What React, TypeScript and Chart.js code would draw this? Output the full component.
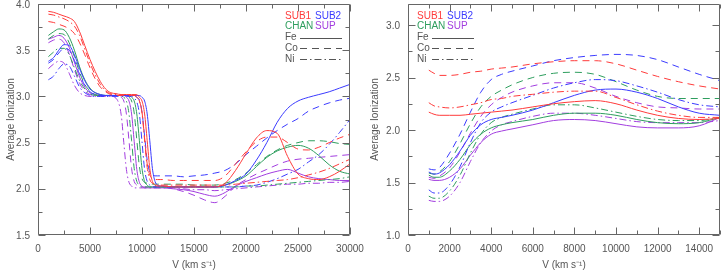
import React, { useEffect, useRef } from "react";
import { Chart, registerables } from "chart.js";

Chart.register(...registerables);

// ---------- Left panel data (V in km/s) ----------
const V_LEFT = [
  1000, 1500, 2000, 2500, 3000, 3500, 4000, 4500, 5000, 5500, 6000, 6500, 7000, 7500,
  8000, 8250, 8500, 8750, 9000, 9250, 9500, 9750, 10000, 10250, 10500, 10750, 11000, 11250, 11500, 11750, 12000,
  13000, 14000, 15000, 16000, 17000, 18000, 19000, 20000, 21000, 22000, 23000, 24000, 25000, 26000, 27000, 28000, 29000, 30000,
];

const L_SUB1_FE = [
  3.92, 3.91, 3.89, 3.87, 3.85, 3.81, 3.70, 3.55, 3.40, 3.27, 3.16, 3.08, 3.04, 3.03,
  3.02, 3.02, 3.02, 3.02, 3.02, 3.02, 3.02, 2.99, 2.95, 2.81, 2.52, 2.22, 2.08, 2.04, 2.03, 2.03, 2.03,
  2.02, 2.02, 2.02, 2.02, 2.02, 2.06, 2.20, 2.38, 2.55, 2.63, 2.60, 2.35, 2.16, 2.11, 2.10, 2.13, 2.19, 2.27,
];
const L_SUB1_CO = [
  3.81, 3.80, 3.78, 3.76, 3.73, 3.68, 3.58, 3.45, 3.31, 3.19, 3.10, 3.05, 3.02, 3.01,
  3.01, 3.01, 3.01, 3.01, 3.01, 3.01, 2.99, 2.95, 2.83, 2.55, 2.27, 2.15, 2.11, 2.10, 2.10, 2.10, 2.10,
  2.09, 2.09, 2.09, 2.09, 2.09, 2.14, 2.27, 2.40, 2.51, 2.56, 2.56, 2.50, 2.43, 2.42, 2.45, 2.50, 2.55, 2.59,
];
const L_SUB1_NI = [
  3.89, 3.88, 3.86, 3.84, 3.81, 3.76, 3.66, 3.51, 3.36, 3.23, 3.13, 3.06, 3.03, 3.02,
  3.02, 3.02, 3.02, 3.02, 3.02, 3.02, 2.99, 2.95, 2.82, 2.53, 2.23, 2.10, 2.06, 2.05, 2.04, 2.04, 2.04,
  2.04, 2.04, 2.04, 2.04, 2.04, 2.04, 2.05, 2.06, 2.07, 2.08, 2.09, 2.10, 2.12, 2.15, 2.18, 2.22, 2.27, 2.32,
];
const L_SUB2_FE = [
  3.38, 3.42, 3.50, 3.56, 3.55, 3.45, 3.30, 3.17, 3.08, 3.04, 3.02, 3.01, 3.01, 3.01,
  3.01, 3.01, 3.01, 3.01, 3.01, 3.01, 3.01, 3.01, 2.99, 2.95, 2.81, 2.52, 2.22, 2.08, 2.04, 2.03, 2.03,
  2.02, 2.02, 2.02, 2.02, 2.02, 2.04, 2.09, 2.16, 2.31, 2.50, 2.72, 2.87, 2.95, 2.99, 3.02, 3.05, 3.09, 3.13,
];
const L_SUB2_CO = [
  3.36, 3.40, 3.47, 3.52, 3.50, 3.39, 3.24, 3.12, 3.05, 3.02, 3.01, 3.01, 3.01, 3.01,
  3.01, 3.01, 3.01, 3.01, 3.01, 3.01, 2.99, 2.96, 2.83, 2.57, 2.31, 2.18, 2.15, 2.14, 2.14, 2.14, 2.14,
  2.14, 2.13, 2.14, 2.15, 2.17, 2.20, 2.27, 2.37, 2.46, 2.55, 2.63, 2.70, 2.76, 2.84, 2.89, 2.93, 2.96, 2.98,
];
const L_SUB2_NI = [
  3.18, 3.22, 3.30, 3.35, 3.33, 3.22, 3.10, 3.04, 3.01, 3.00, 3.00, 3.00, 3.00, 3.00,
  3.00, 3.00, 3.00, 3.00, 3.00, 2.98, 2.94, 2.81, 2.51, 2.21, 2.08, 2.04, 2.02, 2.02, 2.02, 2.02, 2.02,
  2.02, 2.02, 2.02, 2.02, 2.02, 2.02, 2.02, 2.03, 2.04, 2.07, 2.11, 2.16, 2.21, 2.29, 2.37, 2.48, 2.61, 2.75,
];
const L_CHAN_FE = [
  3.66, 3.70, 3.73, 3.72, 3.64, 3.50, 3.32, 3.18, 3.09, 3.04, 3.02, 3.01, 3.01, 3.01,
  3.01, 3.01, 3.01, 3.01, 2.99, 2.95, 2.81, 2.52, 2.22, 2.08, 2.04, 2.02, 2.02, 2.02, 2.02, 2.02, 2.02,
  2.02, 2.02, 2.02, 2.02, 2.02, 2.04, 2.08, 2.14, 2.24, 2.34, 2.41, 2.45, 2.47, 2.44, 2.36, 2.26, 2.19, 2.16,
];
const L_CHAN_CO = [
  3.62, 3.66, 3.68, 3.67, 3.58, 3.43, 3.26, 3.13, 3.06, 3.02, 3.01, 3.01, 3.01, 3.01,
  3.01, 3.01, 3.01, 2.99, 2.95, 2.82, 2.53, 2.24, 2.11, 2.07, 2.06, 2.05, 2.05, 2.05, 2.05, 2.05, 2.05,
  2.05, 2.05, 2.04, 2.04, 2.04, 2.06, 2.10, 2.17, 2.26, 2.35, 2.42, 2.47, 2.50, 2.52, 2.52, 2.51, 2.49, 2.48,
];
const L_CHAN_NI = [
  3.43, 3.48, 3.52, 3.52, 3.45, 3.31, 3.17, 3.08, 3.03, 3.01, 3.01, 3.01, 3.01, 3.01,
  3.01, 2.99, 2.95, 2.81, 2.52, 2.22, 2.08, 2.04, 2.02, 2.02, 2.02, 2.02, 2.02, 2.02, 2.02, 2.02, 2.02,
  2.02, 2.02, 2.02, 2.02, 2.02, 2.02, 2.02, 2.03, 2.03, 2.04, 2.05, 2.06, 2.07, 2.08, 2.09, 2.10, 2.11, 2.13,
];
const L_SUP_FE = [
  3.62, 3.64, 3.66, 3.63, 3.53, 3.37, 3.21, 3.10, 3.04, 3.02, 3.01, 3.01, 3.01, 3.01,
  3.01, 3.01, 2.99, 2.95, 2.81, 2.51, 2.21, 2.07, 2.03, 2.01, 2.01, 2.01, 2.01, 2.01, 2.01, 2.01, 2.01,
  2.00, 1.99, 1.97, 1.94, 1.92, 1.96, 2.03, 2.08, 2.12, 2.16, 2.19, 2.21, 2.17, 2.13, 2.11, 2.10, 2.09, 2.09,
];
const L_SUP_CO = [
  3.58, 3.61, 3.62, 3.58, 3.46, 3.29, 3.14, 3.06, 3.02, 3.01, 3.01, 3.01, 3.01, 3.01,
  2.99, 2.95, 2.81, 2.52, 2.22, 2.08, 2.04, 2.02, 2.02, 2.02, 2.02, 2.02, 2.02, 2.02, 2.02, 2.02, 2.02,
  2.00, 1.97, 1.93, 1.88, 1.85, 1.92, 2.03, 2.10, 2.16, 2.21, 2.26, 2.30, 2.32, 2.33, 2.34, 2.35, 2.36, 2.37,
];
const L_SUP_NI = [
  3.30, 3.35, 3.38, 3.36, 3.25, 3.12, 3.04, 3.01, 3.00, 3.00, 3.00, 3.00, 3.00, 2.98,
  2.80, 2.50, 2.21, 2.07, 2.03, 2.01, 2.01, 2.01, 2.01, 2.01, 2.01, 2.01, 2.01, 2.01, 2.01, 2.01, 2.01,
  2.01, 2.00, 1.99, 1.99, 1.98, 1.99, 2.00, 2.01, 2.02, 2.03, 2.04, 2.05, 2.05, 2.06, 2.06, 2.07, 2.07, 2.08,
];

// ---------- Right panel data ----------
const V_RIGHT = [1000, 1250, 1500, 2000, 2500, 3000, 3500, 4000, 4500, 5000, 6000, 7000, 8000, 9000, 10000, 11000, 12000, 13000, 14000, 15000];

const R_SUB1_FE = [2.17, 2.15, 2.14, 2.14, 2.14, 2.15, 2.16, 2.17, 2.18, 2.19, 2.22, 2.25, 2.27, 2.28, 2.25, 2.19, 2.14, 2.11, 2.10, 2.11];
const R_SUB1_CO = [2.57, 2.54, 2.52, 2.52, 2.53, 2.55, 2.56, 2.58, 2.59, 2.60, 2.63, 2.65, 2.66, 2.66, 2.63, 2.57, 2.51, 2.46, 2.42, 2.39];
const R_SUB1_NI = [2.26, 2.23, 2.22, 2.21, 2.22, 2.24, 2.26, 2.29, 2.30, 2.32, 2.34, 2.36, 2.37, 2.37, 2.31, 2.24, 2.18, 2.14, 2.12, 2.12];
const R_SUB2_FE = [1.60, 1.58, 1.59, 1.67, 1.80, 1.95, 2.05, 2.10, 2.12, 2.14, 2.19, 2.26, 2.33, 2.38, 2.39, 2.36, 2.30, 2.22, 2.16, 2.14];
const R_SUB2_CO = [1.63, 1.62, 1.64, 1.78, 1.96, 2.17, 2.36, 2.48, 2.53, 2.56, 2.61, 2.66, 2.69, 2.71, 2.72, 2.71, 2.67, 2.60, 2.53, 2.47];
const R_SUB2_NI = [1.43, 1.40, 1.40, 1.48, 1.65, 1.88, 2.07, 2.17, 2.22, 2.26, 2.33, 2.40, 2.45, 2.48, 2.47, 2.42, 2.36, 2.29, 2.24, 2.22];
const R_CHAN_FE = [1.57, 1.55, 1.55, 1.61, 1.72, 1.86, 1.96, 2.02, 2.05, 2.07, 2.10, 2.14, 2.16, 2.16, 2.14, 2.10, 2.07, 2.06, 2.07, 2.12];
const R_CHAN_CO = [1.59, 1.58, 1.60, 1.70, 1.87, 2.06, 2.22, 2.32, 2.38, 2.43, 2.50, 2.54, 2.55, 2.53, 2.46, 2.38, 2.32, 2.30, 2.30, 2.30];
const R_CHAN_NI = [1.37, 1.35, 1.35, 1.42, 1.57, 1.78, 1.96, 2.07, 2.12, 2.15, 2.20, 2.24, 2.24, 2.21, 2.17, 2.13, 2.10, 2.09, 2.09, 2.12];
const R_SUP_FE = [1.53, 1.52, 1.52, 1.55, 1.63, 1.76, 1.88, 1.96, 1.99, 2.01, 2.05, 2.09, 2.10, 2.09, 2.06, 2.03, 2.02, 2.02, 2.04, 2.12];
const R_SUP_CO = [1.55, 1.54, 1.56, 1.64, 1.79, 1.97, 2.13, 2.24, 2.31, 2.36, 2.42, 2.45, 2.45, 2.40, 2.32, 2.26, 2.22, 2.21, 2.20, 2.20];
const R_SUP_NI = [1.33, 1.32, 1.32, 1.37, 1.50, 1.70, 1.88, 1.99, 2.05, 2.08, 2.13, 2.16, 2.16, 2.14, 2.11, 2.08, 2.07, 2.07, 2.07, 2.09];

// ---------- Tick labels ----------
const X_TICKS_LEFT = [0, 5000, 10000, 15000, 20000, 25000, 30000];
const Y_TICKS_LEFT = [1.5, 2.0, 2.5, 3.0, 3.5, 4.0];
const X_TICKS_RIGHT = [0, 2000, 4000, 6000, 8000, 10000, 12000, 14000];
const Y_TICKS_RIGHT = [1.0, 1.5, 2.0, 2.5, 3.0];

// ---------- Labels / styles ----------
const MODELS = ["SUB1", "SUB2", "CHAN", "SUP"];
const ELEMENTS = ["Fe", "Co", "Ni"];
const MODEL_COLORS: Record<string, string> = {
  SUB1: "#ff3b3b",
  SUB2: "#3b3bff",
  CHAN: "#2e9e5e",
  SUP: "#a23ddf",
};
const ELEMENT_DASH: Record<string, number[]> = {
  Fe: [],
  Co: [7, 5],
  Ni: [7, 3, 1.5, 3],
};
const Y_TITLE = "Average Ionization";
const X_TITLE = "V (km s\u207B\u00B9)";

const LEFT_SERIES: Record<string, number[]> = {
  SUB1_Fe: L_SUB1_FE, SUB1_Co: L_SUB1_CO, SUB1_Ni: L_SUB1_NI,
  SUB2_Fe: L_SUB2_FE, SUB2_Co: L_SUB2_CO, SUB2_Ni: L_SUB2_NI,
  CHAN_Fe: L_CHAN_FE, CHAN_Co: L_CHAN_CO, CHAN_Ni: L_CHAN_NI,
  SUP_Fe: L_SUP_FE, SUP_Co: L_SUP_CO, SUP_Ni: L_SUP_NI,
};
const RIGHT_SERIES: Record<string, number[]> = {
  SUB1_Fe: R_SUB1_FE, SUB1_Co: R_SUB1_CO, SUB1_Ni: R_SUB1_NI,
  SUB2_Fe: R_SUB2_FE, SUB2_Co: R_SUB2_CO, SUB2_Ni: R_SUB2_NI,
  CHAN_Fe: R_CHAN_FE, CHAN_Co: R_CHAN_CO, CHAN_Ni: R_CHAN_NI,
  SUP_Fe: R_SUP_FE, SUP_Co: R_SUP_CO, SUP_Ni: R_SUP_NI,
};

const TEXT_COLOR = "#555555";
const FRAME_COLOR = "#666666";
const FONT_FAMILY = "'Liberation Sans', Arial, sans-serif";

function buildDatasets(xs: number[], series: Record<string, number[]>) {
  const out: any[] = [];
  for (const m of MODELS) {
    for (const e of ELEMENTS) {
      const ys = series[`${m}_${e}`];
      out.push({
        label: `${m} ${e}`,
        data: xs.map((x, i) => ({ x, y: ys[i] })),
        borderColor: MODEL_COLORS[m],
        borderWidth: 1,
        borderDash: ELEMENT_DASH[e],
        pointRadius: 0,
        fill: false,
        cubicInterpolationMode: "monotone",
      });
    }
  }
  return out;
}

type PanelCfg = {
  xs: number[];
  series: Record<string, number[]>;
  xTicks: number[];
  yTicks: number[];
  xMin: number; xMax: number; xMajor: number; xMinor: number;
  yMin: number; yMax: number; yMajor: number; yMinor: number;
  yAxisWidth: number;
  padRight: number;
  yTitlePad: number;
  legendX: (area: any) => number;
};

function framePlugin(cfg: PanelCfg) {
  return {
    id: "frameTicks",
    afterDraw(chart: any) {
      const { ctx, chartArea: a } = chart;
      const xs = chart.scales.x;
      const ys = chart.scales.y;
      ctx.save();
      ctx.strokeStyle = FRAME_COLOR;
      ctx.lineWidth = 1;
      const L = Math.round(a.left) + 0.5;
      const R = Math.round(a.right) - 0.5;
      const T = Math.round(a.top) + 0.5;
      const B = Math.round(a.bottom) - 0.5;
      ctx.beginPath();
      ctx.rect(L, T, R - L, B - T);
      ctx.stroke();
      ctx.beginPath();
      const nx = Math.round((cfg.xMax - cfg.xMin) / cfg.xMinor);
      for (let i = 0; i <= nx; i++) {
        const v = cfg.xMin + i * cfg.xMinor;
        const major = Math.abs(v / cfg.xMajor - Math.round(v / cfg.xMajor)) < 1e-6;
        const len = major ? 7 : 4;
        const px = Math.round(xs.getPixelForValue(v)) + 0.5;
        ctx.moveTo(px, B); ctx.lineTo(px, B - len);
        ctx.moveTo(px, T); ctx.lineTo(px, T + len);
      }
      const ny = Math.floor((cfg.yMax - cfg.yMin) / cfg.yMinor + 1e-6);
      for (let i = 0; i <= ny; i++) {
        const v = cfg.yMin + i * cfg.yMinor;
        const major = Math.abs(v / cfg.yMajor - Math.round(v / cfg.yMajor)) < 1e-6;
        const len = major ? 7 : 4;
        const py = Math.round(ys.getPixelForValue(v)) + 0.5;
        ctx.moveTo(L, py); ctx.lineTo(L + len, py);
        ctx.moveTo(R, py); ctx.lineTo(R - len, py);
      }
      ctx.stroke();

      // tick labels (alphabetic baseline, placed so digits are centred on the tick)
      ctx.setLineDash([]);
      ctx.fillStyle = TEXT_COLOR;
      ctx.font = `10px ${FONT_FAMILY}`;
      ctx.textAlign = "right";
      ctx.textBaseline = "alphabetic";
      for (const v of cfg.yTicks) {
        const py = Math.max(ys.getPixelForValue(v), 4);
        ctx.fillText(v.toFixed(1), a.left - 8, py + 3.6);
      }
      ctx.textAlign = "center";
      for (const v of cfg.xTicks) {
        ctx.fillText(String(v), xs.getPixelForValue(v), a.bottom + 16.6);
      }
      ctx.restore();
    },
  };
}

function legendPlugin(cfg: PanelCfg) {
  return {
    id: "textLegend",
    afterDraw(chart: any) {
      const { ctx, chartArea: a } = chart;
      const x0 = cfg.legendX(a);
      const top = a.top;
      ctx.save();
      ctx.font = `10px ${FONT_FAMILY}`;
      ctx.textBaseline = "middle";
      ctx.textAlign = "left";
      const rows = [
        [MODELS[0], MODELS[1]],
        [MODELS[2], MODELS[3]],
      ];
      rows.forEach((row, r) => {
        const y = top + 12 + r * 10.5;
        row.forEach((m, c) => {
          ctx.fillStyle = MODEL_COLORS[m];
          ctx.fillText(m, x0 + c * 30, y);
        });
      });
      ELEMENTS.forEach((e, i) => {
        const y = top + 33.5 + i * 10.8;
        ctx.fillStyle = TEXT_COLOR;
        ctx.fillText(e, x0, y);
        ctx.strokeStyle = TEXT_COLOR;
        ctx.lineWidth = 1;
        ctx.setLineDash(ELEMENT_DASH[e]);
        ctx.beginPath();
        ctx.moveTo(x0 + 15, Math.round(y) + 0.5);
        ctx.lineTo(x0 + 57, Math.round(y) + 0.5);
        ctx.stroke();
      });
      ctx.restore();
    },
  };
}

function makeConfig(cfg: PanelCfg): any {
  const font = { family: FONT_FAMILY, size: 10 };
  return {
    type: "line",
    data: { datasets: buildDatasets(cfg.xs, cfg.series) },
    options: {
      animation: false,
      responsive: false,
      maintainAspectRatio: false,
      events: [],
      layout: { padding: { left: 0, right: cfg.padRight, top: 4, bottom: 0 } },
      plugins: { legend: { display: false }, tooltip: { enabled: false } },
      scales: {
        x: {
          type: "linear",
          min: cfg.xMin,
          max: cfg.xMax,
          grid: { display: false, drawTicks: false },
          border: { display: false },
          ticks: { display: false },
          title: { display: true, text: X_TITLE, color: TEXT_COLOR, font, padding: { top: 0, bottom: 0 } },
          afterFit: (s: any) => {
            s.height = 36;
            s.paddingLeft = 0;
            s.paddingRight = 0;
          },
        },
        y: {
          type: "linear",
          min: cfg.yMin,
          max: cfg.yMax,
          grid: { display: false, drawTicks: false },
          border: { display: false },
          ticks: { display: false },
          title: { display: true, text: Y_TITLE, color: TEXT_COLOR, font, padding: { top: cfg.yTitlePad, bottom: 0 } },
          afterFit: (s: any) => {
            s.width = cfg.yAxisWidth;
            s.paddingTop = 0;
            s.paddingBottom = 0;
          },
        },
      },
    },
    plugins: [framePlugin(cfg), legendPlugin(cfg)],
  };
}

const LEFT_CFG: PanelCfg = {
  xs: V_LEFT,
  series: LEFT_SERIES,
  xTicks: X_TICKS_LEFT,
  yTicks: Y_TICKS_LEFT,
  xMin: 0, xMax: 30000, xMajor: 5000, xMinor: 2500,
  yMin: 1.5, yMax: 4.0, yMajor: 0.5, yMinor: 0.25,
  yAxisWidth: 38,
  padRight: 30,
  yTitlePad: 5,
  legendX: (a: any) => a.right - 65,
};

const RIGHT_CFG: PanelCfg = {
  xs: V_RIGHT,
  series: RIGHT_SERIES,
  xTicks: X_TICKS_RIGHT,
  yTicks: Y_TICKS_RIGHT,
  xMin: 0, xMax: 15000, xMajor: 2000, xMinor: 1000,
  yMin: 1.0, yMax: 3.2, yMajor: 0.5, yMinor: 0.25,
  yAxisWidth: 48,
  padRight: 1,
  yTitlePad: 9,
  legendX: (a: any) => a.left + 9,
};

function Panel({ left, width, cfg }: { left: number; width: number; cfg: PanelCfg }) {
  const ref = useRef<HTMLCanvasElement>(null);
  useEffect(() => {
    if (!ref.current) return;
    const chart = new Chart(ref.current, makeConfig(cfg));
    return () => chart.destroy();
  }, [cfg]);
  return (
    <canvas
      ref={ref}
      width={width}
      height={271}
      style={{ position: "absolute", left, top: 0, width, height: 271, display: "block" }}
    />
  );
}

export default function App() {
  return (
    <div style={{ position: "fixed", left: 0, top: 0, width: 721, height: 271, background: "#ffffff" }}>
      <Panel left={360} width={361} cfg={RIGHT_CFG} />
      <Panel left={0} width={380} cfg={LEFT_CFG} />
    </div>
  );
}
